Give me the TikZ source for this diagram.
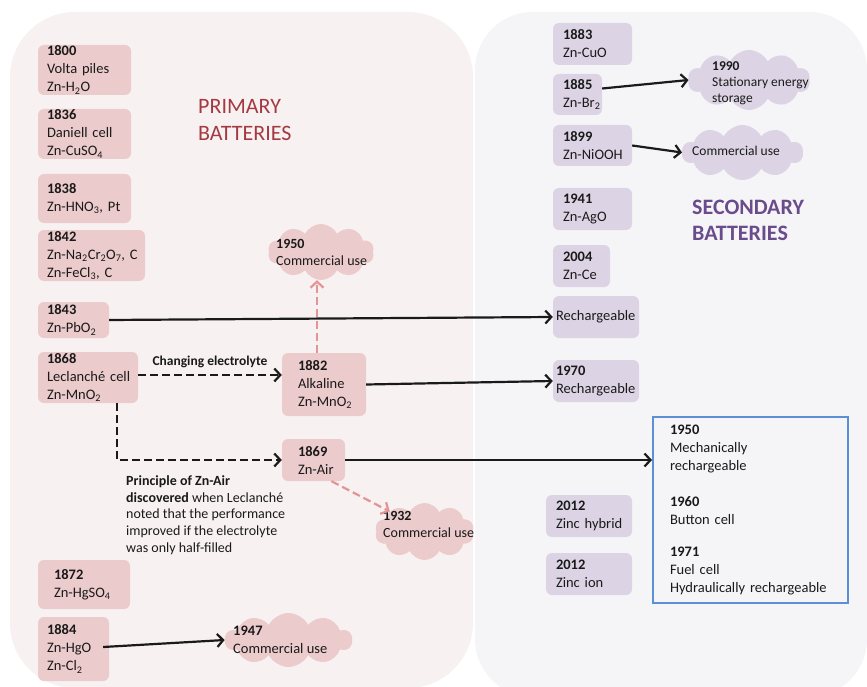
\documentclass[tikz,border=0pt]{standalone}
\usepackage{fontspec}
\setmainfont{Carlito}
\usetikzlibrary{shapes.symbols,arrows.meta}
\definecolor{leftbg}{HTML}{F8F1F2}
\definecolor{rightbg}{HTML}{F5F5F8}
\definecolor{pinkbox}{HTML}{ECCBCC}
\definecolor{purplebox}{HTML}{DCD4E4}
\definecolor{primred}{HTML}{A33A41}
\definecolor{secpurple}{HTML}{6A4C8C}
\definecolor{pinkarrow}{HTML}{E49494}
\definecolor{bluebox}{HTML}{5B8FD6}
\definecolor{txt}{HTML}{1A1A1A}
\newcommand\bxfont{\fontsize{14.5}{18}\selectfont\hyphenpenalty=10000\exhyphenpenalty=10000}
\newcommand\cldfont{\fontsize{14}{17}\selectfont\hyphenpenalty=10000\exhyphenpenalty=10000}
\tikzset{
  boxbase/.style={rounded corners=6pt, align=left, inner ysep=0pt, font=\bxfont, text=txt},
  pbox/.style={boxbase, fill=pinkbox},
  vbox/.style={boxbase, fill=purplebox},
  cloudshape/.style={cloud, cloud puffs=10, cloud puff arc=125, cloud ignores aspect, inner sep=0pt},
  pcloud/.style={cloudshape, fill=pinkbox},
  vcloud/.style={cloudshape, fill=purplebox},
  cloudtext/.style={anchor=west, align=left, inner sep=0pt, font=\cldfont, text=txt},
  arr/.style={draw=txt, line width=2.2pt, -{Straight Barb[length=6pt,width=13pt]}},
  darr/.style={arr, dash pattern=on 8pt off 4pt},
  parr/.style={arr, draw=pinkarrow, dash pattern=on 8pt off 4pt},
}
\begin{document}
\begin{tikzpicture}[x=1pt,y=-1pt]
\useasboundingbox (0,0) rectangle (867,687);
\fill[white] (0,0) rectangle (867,687);
% panels
\fill[leftbg, rounded corners=65pt] (10,12) rectangle (473,688);
\fill[rightbg, rounded corners=58pt] (475,12) rectangle (867,697);

% titles
\node[font=\fontsize{22}{27}\selectfont, text=primred, align=left, anchor=west, inner sep=0pt] (tprim) at (198,120.5) {PRIMARY\\BATTERIES};
\node[font=\fontsize{22}{26}\selectfont\bfseries, text=secpurple, align=left, anchor=west, inner sep=0pt] (tsec) at (692,220) {SECONDARY\\BATTERIES};

% primary boxes
\node[pbox, minimum width=93pt, minimum height=50pt, inner xsep=9pt, text width=75pt] (b1800) at (84.5,70) {\textbf{1800}\\Volta~piles\\Zn-H\textsubscript{2}O};
\node[pbox, minimum width=93pt, minimum height=50pt, inner xsep=9pt, text width=75pt] (b1836) at (84.5,134) {\textbf{1836}\\Daniell~cell\\Zn-CuSO\textsubscript{4}};
\node[pbox, minimum width=93pt, minimum height=49pt, inner xsep=9pt, text width=75pt] (b1838) at (84.5,198.5) {\textbf{1838}\\Zn-HNO\textsubscript{3},~Pt};
\node[pbox, minimum width=107pt, minimum height=51pt, inner xsep=9pt, text width=89pt] (b1842) at (91.5,255.5) {\textbf{1842}\\Zn-Na\textsubscript{2}Cr\textsubscript{2}O\textsubscript{7},~C\\Zn-FeCl\textsubscript{3},~C};
\node[pbox, minimum width=71pt, minimum height=36pt, inner xsep=9pt, text width=53pt] (b1843) at (73.5,320) {\textbf{1843}\\Zn-PbO\textsubscript{2}};
\node[pbox, minimum width=100pt, minimum height=51pt, inner xsep=9pt, text width=82pt] (b1868) at (88,377.5) {\textbf{1868}\\Leclanch\'e~cell\\Zn-MnO\textsubscript{2}};
\node[pbox, minimum width=84pt, minimum height=63pt, inner xsep=16pt, text width=52pt] (b1882) at (324,384.5) {\textbf{1882}\\Alkaline\\Zn-MnO\textsubscript{2}};
\node[pbox, minimum width=63pt, minimum height=42pt, inner xsep=16pt, text width=31pt] (b1869) at (313.5,460) {\textbf{1869}\\Zn-Air};
\node[pbox, minimum width=92pt, minimum height=49pt, inner xsep=16pt, text width=60pt] (b1872) at (84,584.5) {\textbf{1872}\\Zn-HgSO\textsubscript{4}};
\node[pbox, minimum width=71pt, minimum height=64pt, inner xsep=9pt, text width=53pt] (b1884) at (73.5,649) {\textbf{1884}\\Zn-HgO\\Zn-Cl\textsubscript{2}};

% secondary boxes
\node[vbox, minimum width=79pt, minimum height=42pt, inner xsep=10pt, text width=59pt] (b1883) at (592.5,44) {\textbf{1883}\\Zn-CuO};
\node[vbox, minimum width=49pt, minimum height=41pt, inner xsep=10pt, text width=29pt] (b1885) at (577.5,94.5) {\textbf{1885}\\Zn-Br\textsubscript{2}};
\node[vbox, minimum width=79pt, minimum height=41pt, inner xsep=10pt, text width=59pt] (b1899) at (592.5,145.5) {\textbf{1899}\\Zn-NiOOH};
\node[vbox, minimum width=79pt, minimum height=42pt, inner xsep=10pt, text width=59pt] (b1941) at (592.5,209) {\textbf{1941}\\Zn-AgO};
\node[vbox, minimum width=57pt, minimum height=42pt, inner xsep=10pt, text width=37pt] (b2004) at (581.5,266) {\textbf{2004}\\Zn-Ce};
\node[vbox, minimum width=86pt, minimum height=42pt, inner xsep=3pt, text width=80pt] (brech) at (596,317) {Rechargeable};
\node[vbox, minimum width=86pt, minimum height=42pt, inner xsep=3pt, text width=80pt] (b1970) at (596,381) {\textbf{1970}\\Rechargeable};
\node[vbox, minimum width=86pt, minimum height=42pt, inner xsep=10pt, text width=66pt] (bhyb) at (589,516) {\textbf{2012}\\Zinc~hybrid};
\node[vbox, minimum width=86pt, minimum height=42pt, inner xsep=10pt, text width=66pt] (bion) at (589,574) {\textbf{2012}\\Zinc~ion};
\node[draw=bluebox, line width=2pt, align=left, font=\bxfont, text=txt, minimum width=195pt, minimum height=186pt, inner xsep=17pt, inner ysep=0pt, text width=161pt] (blue) at (750.5,510)
  {\textbf{1950}\\Mechanically\\rechargeable\\[18pt]\textbf{1960}\\Button~cell\\[14pt]\textbf{1971}\\Fuel~cell\\Hydraulically~rechargeable};

% clouds
\node[pcloud, minimum width=106pt, minimum height=56pt] (c1950) at (321,252) {};
\node[cloudtext] (t1950) at (276,252.5) {\textbf{1950}\\Commercial~use};
\node[pcloud, minimum width=99pt, minimum height=57pt] (c1932) at (424.5,531.5) {};
\node[cloudtext] (t1932) at (383,524.5) {\textbf{1932}\\Commercial~use};
\node[pcloud, minimum width=127pt, minimum height=54pt] (c1947) at (288.5,640) {};
\node[cloudtext, font=\bxfont] (t1947) at (233,640) {\textbf{1947}\\Commercial~use};
\node[vcloud, minimum width=122pt, minimum height=60pt] (c1990) at (749,80) {};
\node[cloudtext, font=\fontsize{13.5}{16}\selectfont] (t1990) at (712,83.5) {\textbf{1990}\\Stationary~energy\\storage};
\node[vcloud, minimum width=121pt, minimum height=55pt] (c1899) at (742.5,152.5) {};
\node[cloudtext, font=\fontsize{13.5}{16}\selectfont] (t1899) at (692,151) {Commercial~use};

% annotation
\node[anchor=west, align=left, inner sep=0pt, font=\fontsize{14}{16.7}\selectfont, text=txt] (note) at (126,515)
  {\textbf{Principle of Zn-Air}\\\textbf{discovered} when Leclanch\'e\\noted that the performance\\improved if the electrolyte\\was only half-filled};

% connectors
\draw[arr] (b1843.east) -- (brech.west);
\draw[darr] ([yshift=2.5pt]b1868.east) -- node[above=5pt, font=\fontsize{13.5}{16}\selectfont\bfseries, text=txt, inner sep=1pt] (lblchg) {Changing electrolyte} ([yshift=2.5pt]b1868.east -| b1882.west);
\draw[arr] (b1882.east) -- (b1970.west);
\draw[parr] ([xshift=-7pt]b1882.north) -- ([xshift=-7pt]b1882.north |- c1950.south);
\draw[darr] ([xshift=29pt]b1868.south) |- (b1869.west);
\draw[arr] (b1869.east) -- (b1869.east -| blue.west);
\draw[parr] ([xshift=18pt]b1869.south) -- (c1932.north west);
\draw[arr] ([xshift=-6pt,yshift=2pt]b1884.east) -- (c1947.west);
\draw[arr] ([yshift=6pt]b1885.east) -- (c1990.west);
\draw[arr] (b1899.east) -- (c1899.west);
\end{tikzpicture}
\end{document}
